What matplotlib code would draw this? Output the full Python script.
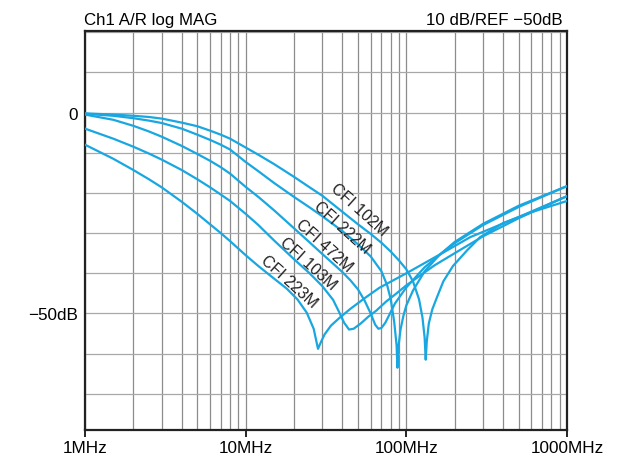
import matplotlib
matplotlib.use("Agg")
import matplotlib.pyplot as plt
import numpy as np

plt.rcParams['font.family'] = ['Liberation Sans', 'DejaVu Sans']

# frequencies (MHz) and attenuation (dB)
f_102 = [1, 1.5, 2, 2.5, 3, 4, 5, 6, 7, 8, 10, 12, 15, 20, 25, 30, 40, 50, 60, 70, 80, 90, 100, 110,
         120, 126, 130, 132, 134, 138, 145, 155, 170, 195, 240, 288, 400, 600, 1000]
db_102 = [-0.2, -0.5, -0.8, -1.1, -1.5, -2.5, -3.4, -4.5, -5.5, -6.5, -8.7, -10.5, -12.8, -16, -18.6,
          -20.7, -24.7, -27.8, -30.2, -32.4, -34.6, -36.8, -39, -42, -46.5, -51, -56, -61.5, -57,
          -52.5, -49, -46, -42, -38.2, -34.2, -31, -27.5, -24.8, -22]

f_222 = [1, 1.5, 2, 2.5, 3, 4, 5, 6, 7, 8, 10, 12, 15, 20, 25, 30, 40, 50, 60, 70, 76, 80, 84, 87, 88,
         89.5, 92, 96, 100, 110, 130, 160, 200, 300, 500, 1000]
db_222 = [-0.3, -0.8, -1.4, -2, -2.6, -4, -5.5, -6.8, -8, -9.2, -12.3, -14.6, -17.5, -21, -23.6, -25.8,
          -29.5, -32.8, -35.8, -39.5, -43, -46.5, -52, -58, -63.5, -58, -54, -50.5, -48, -44.3, -39.5,
          -35.5, -32.2, -27.7, -23.2, -18.3]

f_472 = [1, 1.5, 2, 2.5, 3, 4, 5, 6, 7, 8, 10, 12, 15, 20, 25, 30, 35, 40, 45, 50, 55, 60, 64, 67, 70,
         74, 78, 85, 100, 130, 160, 200, 300, 500, 1000]
db_472 = [-0.5, -1.8, -3.3, -4.7, -6, -8.3, -10.3, -12, -13.6, -15.2, -18.5, -21, -24.3, -28.8, -32.3,
          -35.2, -37.6, -39.7, -41.8, -44, -46.8, -50, -52.8, -53.8, -53.6, -52.3, -50.5, -47.5, -43.5,
          -38.5, -35.5, -32.5, -28, -23.5, -18.3]

f_103 = [1, 1.5, 2, 2.5, 3, 4, 5, 6, 7, 8, 10, 12, 15, 20, 25, 30, 35, 38, 41, 44, 47, 52, 58, 65, 75,
         85, 100, 150, 200, 300, 500, 1000]
db_103 = [-4, -6.5, -8.5, -10.2, -11.7, -14.3, -16.6, -18.6, -20.4, -22, -25.2, -28, -31.8, -36.5, -40,
          -43.2, -46.6, -49.5, -52.3, -54, -53.8, -52.5, -50.8, -49.3, -47, -45.3, -43, -38, -35, -30.8,
          -26.3, -20.8]

f_223 = [1, 1.5, 2, 2.5, 3, 4, 5, 6, 7, 8, 10, 12, 15, 18, 21, 24, 26.5, 28.2, 29.5, 31, 34, 38.6, 45,
         55, 68, 100, 162, 250, 500, 1000]
db_223 = [-8, -11.5, -14.3, -16.6, -18.6, -22.2, -25.2, -27.8, -30, -32, -35.5, -38.2, -41.3, -43.8,
          -46.5, -49.8, -53.8, -58.8, -57, -55.2, -53, -51, -48.8, -46.2, -43.6, -40, -35.3, -31, -26,
          -20.8]

labels = ["CFI 102M", "CFI 222M", "CFI 472M", "CFI 103M", "CFI 223M"]
label_f = [50.7, 39.7, 30.7, 24.4, 18.6]
label_db = [-24.0, -28.5, -33.0, -37.5, -42.0]

x_ticks = [1, 10, 100, 1000]
x_ticklabels = ["1MHz", "10MHz", "100MHz", "1000MHz"]
y_ticks = [0, -50]
y_ticklabels = ["0", "−50dB"]

color = "#18a7e0"

fig = plt.figure(figsize=(6.32, 4.56), dpi=100)
ax = fig.add_axes([85/632, 25/456, (567-85)/632, (431-32)/456])
ax.set_xscale("log")
ax.set_xlim(1, 1000)
ax.set_ylim(-79, 20.3)

series = [(f_102, db_102), (f_222, db_222), (f_472, db_472), (f_103, db_103), (f_223, db_223)]
for fs, dbs in series:
    ax.plot(fs, dbs, color=color, lw=1.6, solid_joinstyle="round", zorder=3)

for lab, lf, ld in zip(labels, label_f, label_db):
    ax.text(lf, ld, lab, rotation=-42, rotation_mode="anchor", ha="center", va="center",
            fontsize=11.5, color="#222222", zorder=4)

# grid
minor = [m * 10**d for d in range(0, 3) for m in range(2, 10)]
for v in minor + x_ticks:
    ax.axvline(v, color="#8c8c8c", lw=0.9, zorder=1)
for v in range(-70, 21, 10):
    ax.axhline(v, color="#a8a8a8", lw=0.9, zorder=1)

ax.set_xticks(x_ticks)
ax.set_xticklabels(x_ticklabels, fontsize=12.3)
ax.xaxis.set_minor_locator(matplotlib.ticker.NullLocator())
ax.tick_params(axis="x", direction="out", length=5, width=1.2, pad=2)
ax.set_yticks(y_ticks)
ax.set_yticklabels(y_ticklabels, fontsize=12.3)
ax.tick_params(axis="y", length=0, pad=5)
for s in ax.spines.values():
    s.set_linewidth(1.6)
    s.set_color("#222222")

ax.text(-0.002, 1.01, "Ch1 A/R log MAG", transform=ax.transAxes, ha="left", va="bottom", fontsize=12.2)
ax.text(0.99, 1.01, "10 dB/REF −50dB", transform=ax.transAxes, ha="right", va="bottom", fontsize=12.2)

fig.savefig("out.png", dpi=100)
